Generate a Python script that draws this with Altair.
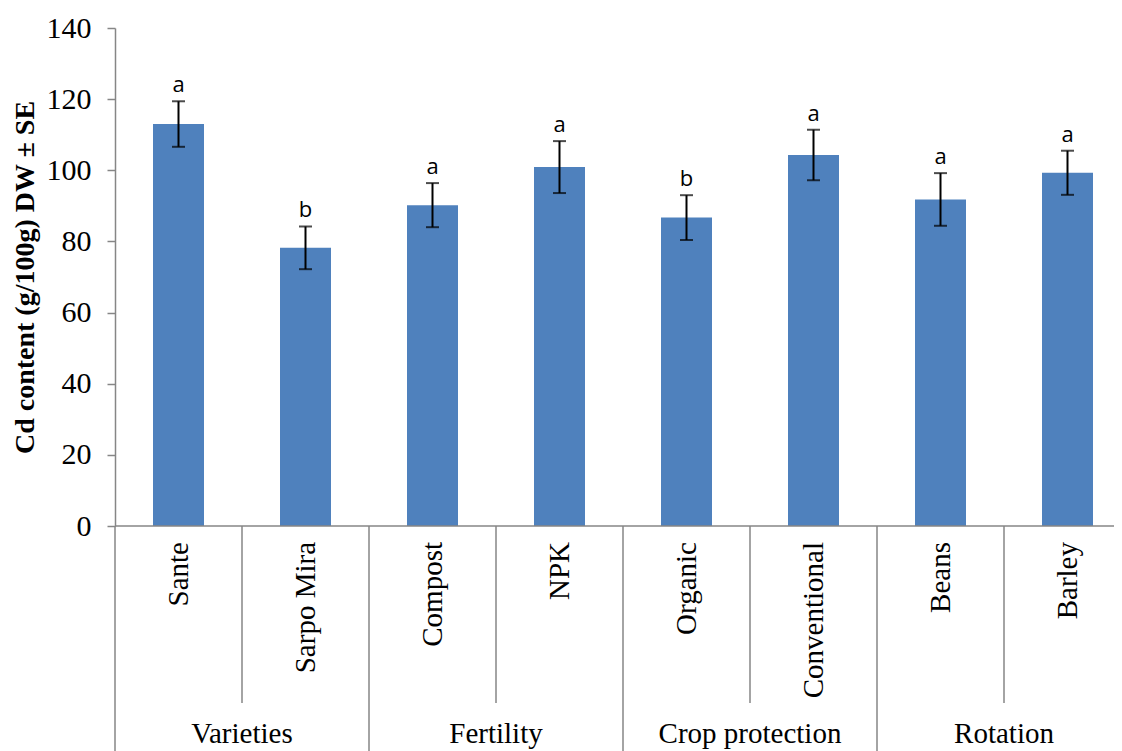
import altair as alt
import pandas as pd

categories = ["Sante", "Sarpo Mira", "Compost", "NPK", "Organic", "Conventional", "Beans", "Barley"]
groups = ["Varieties", "Varieties", "Fertility", "Fertility",
          "Crop protection", "Crop protection", "Rotation", "Rotation"]
means = [113.0, 78.2, 90.2, 100.9, 86.7, 104.3, 91.8, 99.3]
se = [6.4, 6.0, 6.2, 7.3, 6.3, 7.1, 7.4, 6.2]
letters = ["a", "b", "a", "a", "b", "a", "a", "a"]
y_ticks = [0, 20, 40, 60, 80, 100, 120, 140]

df = pd.DataFrame({
    "category": categories,
    "group": groups,
    "mean": means,
    "se": se,
    "letter": letters,
})
df["lo"] = df["mean"] - df["se"]
df["hi"] = df["mean"] + df["se"]
df["first"] = [i == 0 or groups[i] != groups[i - 1] for i in range(len(groups))]

first_df = df[df["first"]]
second_df = df[~df["first"]]

W, H = 999, 498
STEP_RANGE = 1016
GREY = "#868686"
SERIF = "Liberation Serif"


def xenc(band=None):
    kw = {}
    if band is not None:
        kw["bandPosition"] = band
    return alt.X("category:N", sort=categories, axis=None,
                 scale=alt.Scale(range=[0, STEP_RANGE], paddingInner=0, paddingOuter=0), **kw)


yscale = alt.Scale(domain=[0, 140], nice=False)
yaxis = alt.Axis(values=y_ticks, grid=False, labelFont=SERIF, labelFontSize=30,
                 labelColor="black", labelPadding=16, tickColor=GREY, tickSize=8, tickWidth=1.5,
                 domainColor=GREY, domainWidth=1.5,
                 title="Cd content (g/100g) DW ± SE", titleFont=SERIF, titleFontSize=28,
                 titleFontWeight="bold", titleColor="black", titleAngle=270,
                 titleX=-82, titleY=249, titleAlign="center", titleBaseline="alphabetic")

base = alt.Chart(df)

bars = base.mark_bar(color="#4F81BD", size=51).encode(
    x=xenc(), y=alt.Y("mean:Q", scale=yscale, axis=yaxis))

err = base.mark_rule(color="black", strokeWidth=2).encode(
    x=xenc(), y=alt.Y("lo:Q", scale=yscale), y2="hi:Q")

caps_hi = base.mark_tick(color="black", size=13, thickness=2).encode(
    x=xenc(), y=alt.Y("hi:Q", scale=yscale))
caps_lo = base.mark_tick(color="black", size=13, thickness=2).encode(
    x=xenc(), y=alt.Y("lo:Q", scale=yscale))

sig = base.mark_text(font="Open Sans", fontSize=22, color="black", baseline="alphabetic",
                     dy=-9).encode(x=xenc(), y=alt.Y("hi:Q", scale=yscale), text="letter:N")

xline = alt.Chart(pd.DataFrame({"v": [0]})).mark_rule(color=GREY, strokeWidth=1.5).encode(
    y=alt.Y("v:Q", scale=yscale))

cat_sep = alt.Chart(second_df).mark_rule(color=GREY, strokeWidth=1.5).encode(
    x=xenc(0), y=alt.value(H), y2=alt.value(H + 177))

grp_sep = alt.Chart(first_df).mark_rule(color=GREY, strokeWidth=1.5).encode(
    x=xenc(0), y=alt.value(H), y2=alt.value(H + 260))

cat_lab = base.mark_text(font=SERIF, fontSize=29, color="black", angle=270,
                         align="right", baseline="middle").encode(
    x=xenc(), y=alt.value(H + 16), text="category:N")

grp_lab = alt.Chart(second_df).mark_text(font=SERIF, fontSize=29, color="black",
                                         align="center", baseline="alphabetic").encode(
    x=xenc(0), y=alt.value(H + 217), text="group:N")

chart = alt.layer(bars, err, caps_hi, caps_lo, sig, xline, cat_sep, grp_sep, cat_lab, grp_lab).properties(
    width=W, height=H,
    padding={"left": 107, "top": 20, "right": 0, "bottom": 225},
    autosize=alt.AutoSizeParams(type="none"),
).configure_view(stroke=None)

chart.save("out.html", embed_options={"renderer": "svg", "actions": False})
